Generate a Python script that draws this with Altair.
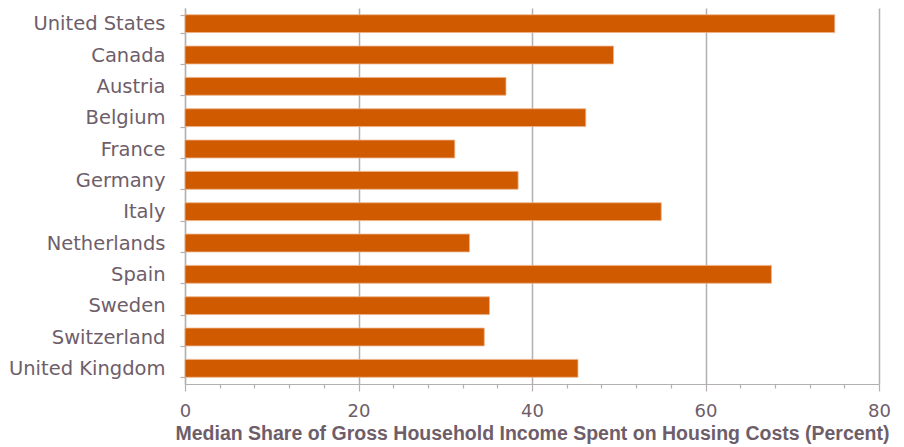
import altair as alt
import pandas as pd

countries = ["United States", "Canada", "Austria", "Belgium", "France", "Germany",
             "Italy", "Netherlands", "Spain", "Sweden", "Switzerland", "United Kingdom"]
values = [74.9, 49.4, 37.0, 46.2, 31.1, 38.4, 54.9, 32.8, 67.6, 35.1, 34.5, 45.3]
x_ticks = [0, 4, 8, 12, 16, 20, 24, 28, 32, 36, 40, 44, 48, 52, 56, 60, 64, 68, 72, 76, 80]

df = pd.DataFrame({"country": countries, "value": values})

TEXT = "#6E5E6A"
LINE = "#B4B0B2"
FONT = "DejaVu Sans"
TFONT = "Liberation Sans"
BAR = "#D05A00"

chart = alt.Chart(df).mark_bar(color=BAR, stroke="#EDB48A", strokeWidth=0.8).encode(
    x=alt.X(
        "value:Q",
        scale=alt.Scale(domain=[0, 80], nice=False, zero=True),
        axis=alt.Axis(
            values=x_ticks,
            labelExpr="datum.value % 20 === 0 ? datum.label : ''",
            labelFlush=False,
            labelOverlap=False,
            labelFontSize=18,
            labelColor=TEXT,
            labelFont=FONT,
            labelPadding=11,
            grid=True,
            gridColor=alt.condition("datum.value % 20 === 0", alt.value(LINE), alt.value("transparent")),
            gridWidth=1.5,
            tickSize=alt.condition("datum.value % 20 === 0", alt.value(7), alt.value(4)),
            tickColor=LINE,
            tickWidth=1.2,
            domainColor=LINE,
            domainWidth=1.2,
            title="Median Share of Gross Household Income Spent on Housing Costs (Percent)",
            titleFont=TFONT,
            titleFontSize=19.5,
            titleFontWeight="bold",
            titleColor=TEXT,
            titlePadding=4,
        ),
    ),
    y=alt.Y(
        "country:N",
        sort=countries,
        scale=alt.Scale(paddingInner=0.43, paddingOuter=0.215),
        axis=alt.Axis(
            title=None,
            labelFontSize=19.5,
            labelColor=TEXT,
            labelFont=FONT,
            labelPadding=15,
            tickSize=5,
            tickBand="extent",
            tickColor=LINE,
            tickWidth=1.2,
            domainColor=LINE,
            domainWidth=1.2,
            grid=False,
        ),
    ),
).properties(
    width=694,
    height=376,
    padding={"left": 177, "top": 0, "right": 15, "bottom": 62},
    autosize=alt.AutoSizeParams(type="none"),
).configure_view(stroke=None)

chart.save("out.html", embed_options={"renderer": "svg", "actions": False})
